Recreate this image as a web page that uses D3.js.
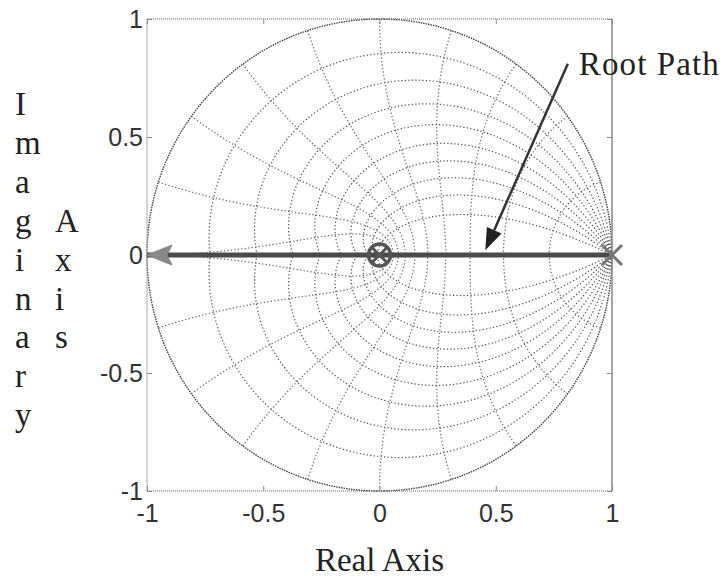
<!DOCTYPE html>
<html>
<head>
<meta charset="utf-8">
<script src="https://cdn.jsdelivr.net/npm/d3@7"></script>
<style>
  body { margin: 0; background: #fff; }
  .tick-label { font-family: "Liberation Sans", Arial, sans-serif; font-size: 25px; fill: #333; }
  .serif { font-family: "Liberation Serif", "Times New Roman", serif; font-size: 33px; fill: #222; }
</style>
</head>
<body>
<div id="main"></div>
<script>
const width = 725;
const height = 580;
const margin = { left: 147, right: 113, top: 19, bottom: 89 };

// grid values (damping ratios and natural frequencies as fractions of pi)
const zetaVals = [0, 0.1, 0.2, 0.3, 0.4, 0.5, 0.6, 0.7, 0.8, 0.9];
const wnVals = [0.1, 0.2, 0.3, 0.4, 0.5, 0.6, 0.7, 0.8, 0.9, 1.0];

const realTicks = [-1, -0.5, 0, 0.5, 1];
const imagTicks = [-1, -0.5, 0, 0.5, 1];

// root locus: from pole at 1 to the left along the real axis
const locusRe = [1, -1];
const locusIm = [0, 0];
const poles = [[1, 0]];
const zeros = [[0, 0]];

const annoText = "Root Path";
const annoFrom = [0.81, 0.81];
const annoTo = [0.455, 0.02];

const svg = d3.select("#main").append("svg")
  .attr("width", width)
  .attr("height", height);

const x = d3.scaleLinear().domain([-1, 1]).range([margin.left, width - margin.right]);
const y = d3.scaleLinear().domain([-1, 1]).range([height - margin.bottom, margin.top]);

const line = d3.line().x(d => x(d[0])).y(d => y(d[1]));

const grid = svg.append("g").attr("class", "grid");

// damping ratio spirals
zetaVals.forEach(z => {
  const m = Math.tan(Math.asin(z));
  const pts = d3.range(0, 201).map(i => {
    const t = Math.PI * i / 200;
    const r = Math.exp(-m * t);
    return [r * Math.cos(t), r * Math.sin(t)];
  });
  [1, -1].forEach(s => {
    grid.append("path")
      .attr("d", line(pts.map(p => [p[0], s * p[1]])))
      .attr("fill", "none")
      .attr("stroke", z === 0 ? "#444" : "#555")
      .attr("stroke-width", z === 0 ? 1.4 : 1.2)
      .attr("stroke-dasharray", z === 0 ? "1.5,1" : "1.3,2.2");
  });
});

// natural frequency curves
wnVals.forEach(w => {
  const wn = w * Math.PI;
  const pts = d3.range(0, 101).map(i => {
    const th = Math.PI / 2 + (Math.PI / 2) * i / 100;
    const re = wn * Math.cos(th), im = wn * Math.sin(th);
    const r = Math.exp(re);
    return [r * Math.cos(im), r * Math.sin(im)];
  });
  [1, -1].forEach(s => {
    grid.append("path")
      .attr("d", line(pts.map(p => [p[0], s * p[1]])))
      .attr("fill", "none")
      .attr("stroke", "#666")
      .attr("stroke-width", 1.2)
      .attr("stroke-dasharray", "1.3,2.2");
  });
});

// axes box
const box = svg.append("g").attr("class", "box");
box.append("line").attr("x1", x(-1)).attr("x2", x(1)).attr("y1", y(1)).attr("y2", y(1))
  .attr("stroke", "#666").attr("stroke-dasharray", "1,1");
box.append("line").attr("x1", x(-1)).attr("x2", x(1)).attr("y1", y(-1)).attr("y2", y(-1))
  .attr("stroke", "#666").attr("stroke-dasharray", "1,1");
box.append("line").attr("x1", x(-1)).attr("x2", x(-1)).attr("y1", y(1)).attr("y2", y(-1))
  .attr("stroke", "#aaa");
box.append("line").attr("x1", x(1)).attr("x2", x(1)).attr("y1", y(1)).attr("y2", y(-1))
  .attr("stroke", "#888").attr("stroke-width", 1.5);

// ticks and labels
const xAxis = d3.axisBottom(x).tickValues(realTicks).tickSize(-5).tickPadding(10)
  .tickFormat(d => d3.format("")(d).replace("−", "-"));
const yAxis = d3.axisLeft(y).tickValues(imagTicks).tickSize(-5).tickPadding(4)
  .tickFormat(d => d3.format("")(d).replace("−", "-"));

const gx = svg.append("g").attr("transform", `translate(0,${y(-1)})`).call(xAxis);
const gy = svg.append("g").attr("transform", `translate(${x(-1)},0)`).call(yAxis);
[gx, gy].forEach(g => {
  g.select(".domain").remove();
  g.selectAll(".tick line").attr("stroke", "#888");
  g.selectAll(".tick text").attr("class", "tick-label").attr("fill", null);
});
gx.selectAll(".tick text").attr("dy", "0.85em");
gy.selectAll(".tick text").attr("dy", "0.35em");
// mirrored ticks on top and right
svg.append("g").attr("transform", `translate(0,${y(1)})`)
  .call(d3.axisTop(x).tickValues(realTicks).tickSize(-5).tickFormat(""))
  .call(g => { g.select(".domain").remove(); g.selectAll("line").attr("stroke", "#888"); });
svg.append("g").attr("transform", `translate(${x(1)},0)`)
  .call(d3.axisRight(y).tickValues(imagTicks).tickSize(-5).tickFormat(""))
  .call(g => { g.select(".domain").remove(); g.selectAll("line").attr("stroke", "#888"); });

// root locus line
const locus = locusRe.map((r, i) => [r, locusIm[i]]);
svg.append("path")
  .attr("d", line(locus))
  .attr("stroke", "#4a4a4a")
  .attr("stroke-width", 5)
  .attr("fill", "none");

// arrowhead at the end of the locus
const endPt = locus[locus.length - 1];
const ex = x(endPt[0]), ey = y(endPt[1]);
svg.append("path")
  .attr("d", `M${ex},${ey} L${ex + 25},${ey - 10} L${ex + 20},${ey} L${ex + 25},${ey + 10} Z`)
  .attr("fill", "#888")
  .attr("stroke", "#888")
  .attr("stroke-width", 1);

// zeros: o with x
zeros.forEach(d => {
  const cx = x(d[0]), cy = y(d[1]);
  svg.append("circle").attr("cx", cx).attr("cy", cy).attr("r", 11)
    .attr("fill", "none").attr("stroke", "#555").attr("stroke-width", 3.5);
  svg.append("path")
    .attr("d", `M${cx - 8},${cy - 8}L${cx + 8},${cy + 8}M${cx - 8},${cy + 8}L${cx + 8},${cy - 8}`)
    .attr("stroke", "#555").attr("stroke-width", 3);
});

// poles: x
poles.forEach(d => {
  const cx = x(d[0]), cy = y(d[1]);
  svg.append("path")
    .attr("d", `M${cx - 10},${cy - 10}L${cx + 10},${cy + 10}M${cx - 10},${cy + 10}L${cx + 10},${cy - 10}`)
    .attr("stroke", "#777").attr("stroke-width", 3);
});

// annotation arrow
const ax0 = x(annoFrom[0]), ay0 = y(annoFrom[1]);
const ax1 = x(annoTo[0]), ay1 = y(annoTo[1]);
const ang = Math.atan2(ay1 - ay0, ax1 - ax0);
const hl = 22, hw = 8;
const bx = ax1 - hl * Math.cos(ang), by = ay1 - hl * Math.sin(ang);
svg.append("line")
  .attr("x1", ax0).attr("y1", ay0).attr("x2", bx).attr("y2", by)
  .attr("stroke", "#333").attr("stroke-width", 2.5);
svg.append("path")
  .attr("d", `M${ax1},${ay1}L${bx + hw * Math.sin(ang)},${by - hw * Math.cos(ang)}L${bx - hw * Math.sin(ang)},${by + hw * Math.cos(ang)}Z`)
  .attr("fill", "#222");
svg.append("text")
  .attr("class", "serif")
  .attr("x", ax0 + 11)
  .attr("y", 75)
  .attr("textLength", 140)
  .text(annoText);

// axis titles
svg.append("text")
  .attr("class", "serif")
  .attr("x", (x(-1) + x(1)) / 2)
  .attr("y", 571)
  .attr("text-anchor", "middle")
  .text("Real Axis");

const ylab1 = "Imaginary".split("");
const ylab2 = "Axis".split("");
ylab1.forEach((c, i) => {
  svg.append("text").attr("class", "serif")
    .attr("x", 15).attr("y", 115 + i * 38.9).text(c);
});
ylab2.forEach((c, i) => {
  svg.append("text").attr("class", "serif")
    .attr("x", 55).attr("y", 115 + (i + 3) * 38.9).text(c);
});
</script>
</body>
</html>
